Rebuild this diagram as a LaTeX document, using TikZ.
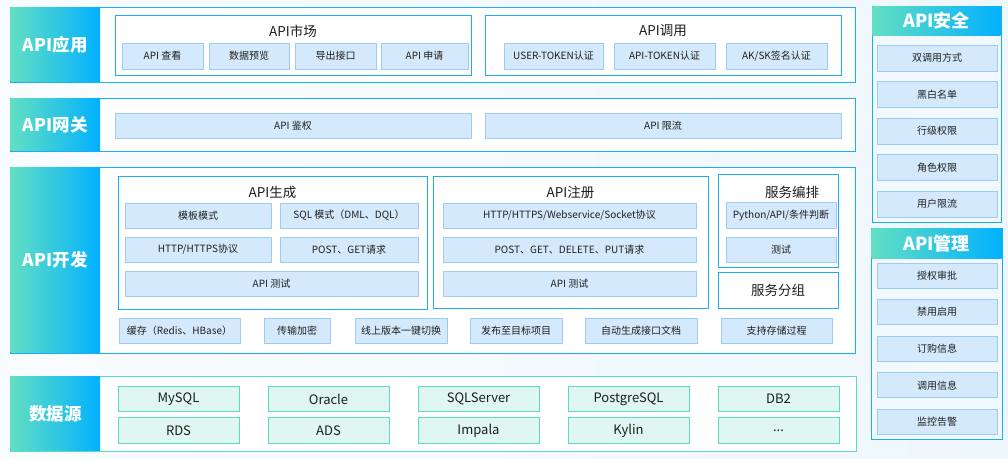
\documentclass[tikz,border=0pt]{standalone}
\usepackage{fontspec}
\setmainfont{Noto Sans CJK SC}

\definecolor{laybl}{HTML}{1AAEEF}
\definecolor{subfill}{HTML}{D4EAFC}
\definecolor{subdraw}{HTML}{9CCCF6}
\definecolor{dsdraw}{HTML}{5CDBC0}
\definecolor{dsfill}{HTML}{DFF6F1}
\definecolor{tagl}{HTML}{62DFC3}
\definecolor{tagr}{HTML}{02B1FE}
\definecolor{bgl}{HTML}{F9FCFE}
\definecolor{bgr}{HTML}{EEF7FC}
\definecolor{panel}{HTML}{F1F8FE}
\definecolor{txt}{HTML}{1E1E1E}

\tikzset{
  layer/.style={draw=laybl, fill=white, line width=1pt, inner sep=0pt},
  tag/.style={left color=tagl, right color=tagr, text=white, inner sep=0pt,
    minimum width=89.5pt, font=\bfseries\fontsize{17.5}{20}\selectfont},
  group/.style={draw=laybl, fill=white, line width=1pt, inner sep=0pt},
  title/.style={text=txt, font=\fontsize{13.5}{16}\selectfont},
  sub/.style={draw=subdraw, fill=subfill, line width=1pt, inner sep=0pt,
    minimum height=25pt, text=txt, font=\fontsize{10}{12}\selectfont},
  ds/.style={draw=dsdraw, fill=dsfill, line width=1pt, inner sep=0pt,
    minimum width=121pt, minimum height=25.5pt, text=txt, font=\fontsize{13}{15}\selectfont},
  head/.style={left color=tagl, right color=tagr, text=white, inner sep=0pt,
    font=\bfseries\fontsize{18}{20}\selectfont},
}

\begin{document}
\begin{tikzpicture}[x=1pt,y=-1pt]
    \shade[left color=bgl,right color=bgr] (0,0) rectangle (1008,458);
    \useasboundingbox (0,0) rectangle (1008,458);

    % API应用
    \node[layer, minimum width=845pt, minimum height=75pt] (app) at (432.5,44.5) {};
    \node[tag, minimum height=74pt] (apptag) at (55.25,44.5) {API应用};
    \node[group, minimum width=356pt, minimum height=60pt] (market) at (293,45) {};
    \node[title] (markettitle) at (293,31) {API市场};
    \node[sub, minimum width=81pt, minimum height=26pt] (mk1) at (162.5,56) {API 查看};
    \node[sub, minimum width=80pt, minimum height=26pt] (mk2) at (249,56) {数据预览};
    \node[sub, minimum width=81pt, minimum height=26pt] (mk3) at (335.5,56) {导出接口};
    \node[sub, minimum width=87pt, minimum height=26pt] (mk4) at (424.5,56) {API 申请};
    \node[group, minimum width=356pt, minimum height=60pt] (call) at (663,45) {};
    \node[title] (calltitle) at (663,31) {API调用};
    \node[sub, minimum width=99pt, minimum height=26pt] (cl1) at (553.5,56) {USER-TOKEN认证};
    \node[sub, minimum width=101pt, minimum height=26pt] (cl2) at (664.5,56) {API-TOKEN认证};
    \node[sub, minimum width=101pt, minimum height=26pt] (cl3) at (776.5,56) {AK/SK签名认证};

    % API网关
    \node[layer, minimum width=845pt, minimum height=53pt] (gw) at (432.5,124.5) {};
    \node[tag, minimum height=52pt] (gwtag) at (55.25,124.5) {API网关};
    \node[sub, minimum width=356pt] (gw1) at (293,125.5) {API 鉴权};
    \node[sub, minimum width=356pt] (gw2) at (663,125.5) {API 限流};

    % API开发
    \node[layer, minimum width=845pt, minimum height=186pt] (dev) at (432.5,260) {};
    \node[tag, minimum height=185pt] (devtag) at (55.25,260) {API开发};
    \node[group, minimum width=309pt, minimum height=133pt] (gen) at (272.5,242.5) {};
    \node[title] (gentitle) at (272.5,192) {API生成};
    \node[sub, minimum width=146pt] (gen1) at (198,215.5) {模板模式};
    \node[sub, minimum width=138pt] (gen2) at (349,215.5) {SQL 模式（DML、DQL）};
    \node[sub, minimum width=146pt] (gen3) at (198,249.5) {HTTP/HTTPS协议};
    \node[sub, minimum width=138pt] (gen4) at (349,249.5) {POST、GET请求};
    \node[sub, minimum width=293pt] (gen5) at (271.5,283.5) {API 测试};
    \node[group, minimum width=275pt, minimum height=132pt] (reg) at (570.5,242) {};
    \node[title] (regtitle) at (570.5,192) {API注册};
    \node[sub, minimum width=253pt] (reg1) at (569.5,215.5) {HTTP/HTTPS/Webservice/Socket协议};
    \node[sub, minimum width=253pt] (reg2) at (569.5,249.5) {POST、GET、DELETE、PUT请求};
    \node[sub, minimum width=253pt] (reg3) at (569.5,283.5) {API 测试};
    \node[group, minimum width=120pt, minimum height=93pt] (orch) at (778,220.5) {};
    \node[title] (orchtitle) at (792,192) {服务编排};
    \node[sub, minimum width=110pt, minimum height=26pt] (orch1) at (781,215) {Python/API/条件判断};
    \node[sub, minimum width=110pt] (orch2) at (781,249.5) {测试};
    \node[group, title, minimum width=120pt, minimum height=36pt] (svcgroup) at (778,290) {服务分组};
    \node[sub, minimum width=121pt] (bot1) at (179.5,330.5) {缓存（Redis、HBase）};
    \node[sub, minimum width=66pt] (bot2) at (297,330.5) {传输加密};
    \node[sub, minimum width=92pt] (bot3) at (401,330.5) {线上版本一键切换};
    \node[sub, minimum width=92pt] (bot4) at (516,330.5) {发布至目标项目};
    \node[sub, minimum width=112pt] (bot5) at (641,330.5) {自动生成接口文档};
    \node[sub, minimum width=111pt] (bot6) at (776.5,330.5) {支持存储过程};

    % 数据源
    \node[layer, draw=dsdraw, minimum width=846pt, minimum height=75pt] (src) at (433,413.5) {};
    \node[tag, minimum height=74pt] (srctag) at (55.25,413.5) {数据源};
    \foreach \a/\b [count=\i] in {MySQL/RDS, Oracle/ADS, SQLServer/Impala, PostgreSQL/Kylin, DB2/.{}.{}.} {
      \node[ds] (dsa\i) at ({28.5+150*\i},399) {\a};
      \node[ds] (dsb\i) at ({28.5+150*\i},430.5) {\b};
    }

    % API安全 / API管理
    \node[layer, fill=panel, minimum width=129pt, minimum height=216pt] (sec) at (936.5,114) {};
    \node[head, minimum width=128pt, minimum height=28.5pt] (sechead) at (936.5,20.75) {API安全};
    \foreach \t [count=\i] in {双调用方式,黑白名单,行级权限,角色权限,用户限流}
      \node[sub, minimum width=120pt, minimum height=26pt] (sec\i) at (937,{58+36.5*(\i-1)}) {\t};
    \node[layer, fill=panel, minimum width=131pt, minimum height=211pt] (mgmt) at (936.5,333.5) {};
    \node[head, minimum width=130pt, minimum height=29.5pt] (mgmthead) at (936.5,243.25) {API管理};
    \foreach \t [count=\i] in {授权审批,禁用启用,订购信息,调用信息,监控告警}
      \node[sub, minimum width=120pt] (mgmt\i) at (937,{275.5+36.6*(\i-1)}) {\t};
  \end{tikzpicture}
\end{document}
